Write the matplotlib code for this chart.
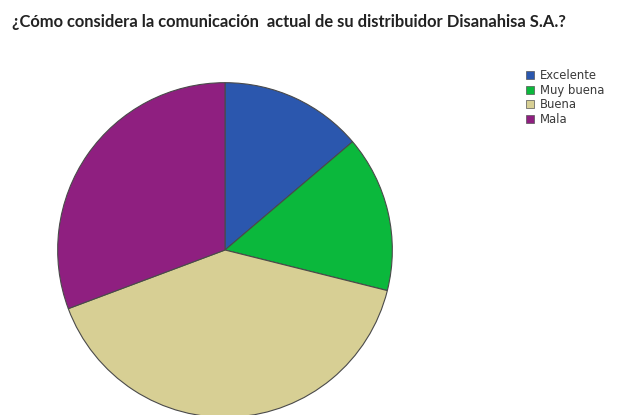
import matplotlib.pyplot as plt
from matplotlib.patches import Patch

titulo = '¿Cómo considera la comunicación  actual de su distribuidor Disanahisa S.A.?'
categorias = ['Excelente', 'Muy buena', 'Buena', 'Mala']
porcentajes = [13.8, 15.1, 40.4, 30.7]
colores = ['#2b57ae', '#0bb83c', '#d7cf94', '#8f1f80']

W, H = 622, 415
fig = plt.figure(figsize=(W / 100, H / 100), dpi=100)
fig.patch.set_facecolor('white')

# pie centred at (225, 250) px from top-left, radius 169 px
cx, cy, r = 225, 250, 169
ax = fig.add_axes([(cx - r) / W, (H - cy - r) / H, 2 * r / W, 2 * r / H])
ax.pie(porcentajes, colors=colores, startangle=90, counterclock=False,
       radius=1, wedgeprops=dict(edgecolor='#4a4a4a', linewidth=0.8))
ax.set_xlim(-1.01, 1.01)
ax.set_ylim(-1.01, 1.01)
ax.set_aspect('equal')
ax.axis('off')

fig.text(12 / W, 1 - 22 / H, titulo, fontsize=11.9, fontweight='bold',
         color='#222222', va='center', ha='left', family=['Lato', 'DejaVu Sans'])

handles = [Patch(facecolor=c, edgecolor='#555555', linewidth=0.5) for c in colores]
leg = fig.legend(handles, categorias, loc='upper left',
                 bbox_to_anchor=(526 / W, 1 - 69 / H), frameon=False,
                 handlelength=0.7, handleheight=0.7,
                 handletextpad=0.5, labelspacing=0.15, borderpad=0,
                 borderaxespad=0, prop={'family': 'DejaVu Sans', 'size': 8.4})
for t in leg.get_texts():
    t.set_color('#3a3a3a')

fig.savefig('out.png', dpi=100)
